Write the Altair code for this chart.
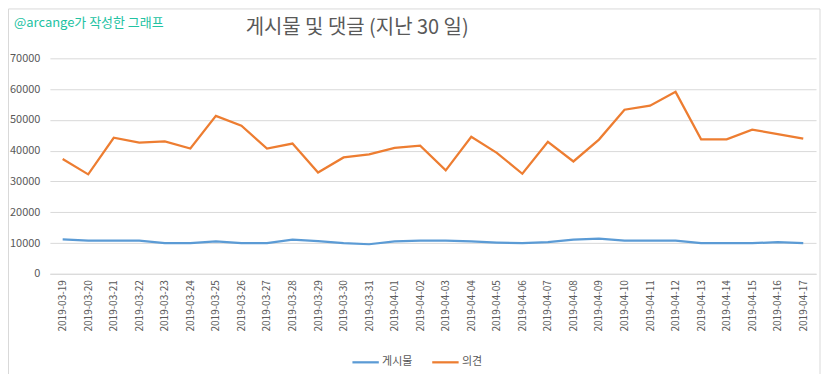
import altair as alt
import pandas as pd

dates = ["2019-03-19", "2019-03-20", "2019-03-21", "2019-03-22", "2019-03-23", "2019-03-24",
         "2019-03-25", "2019-03-26", "2019-03-27", "2019-03-28", "2019-03-29", "2019-03-30",
         "2019-03-31", "2019-04-01", "2019-04-02", "2019-04-03", "2019-04-04", "2019-04-05",
         "2019-04-06", "2019-04-07", "2019-04-08", "2019-04-09", "2019-04-10", "2019-04-11",
         "2019-04-12", "2019-04-13", "2019-04-14", "2019-04-15", "2019-04-16", "2019-04-17"]
posts = [11200, 10800, 10800, 10800, 9950, 9950, 10500, 9950, 9950, 11100, 10600, 9950,
         9600, 10500, 10800, 10800, 10500, 10150, 9950, 10300, 11100, 11450, 10800, 10800,
         10800, 9950, 9950, 9950, 10300, 9950]
comments = [37300, 32300, 44200, 42600, 43000, 40700, 51300, 48100, 40700, 42300, 32900, 37800,
            38800, 40900, 41600, 33600, 44500, 39300, 32500, 42900, 36500, 43600, 53300, 54600,
            59100, 43700, 43700, 46800, 45400, 43900]
series_names = ["게시물", "의견"]
series_colors = ["#5b9bd5", "#ed7d31"]
y_ticks = [0, 10000, 20000, 30000, 40000, 50000, 60000, 70000]
title_text = "게시물 및 댓글 (지난 30 일)"
credit_text = "@arcange가 작성한 그래프"

rows = []
for d, p, c in zip(dates, posts, comments):
    rows.append({"date": d, "series": series_names[0], "value": p})
    rows.append({"date": d, "series": series_names[1], "value": c})
df = pd.DataFrame(rows)

FONT = "Noto Sans CJK KR"
W, H = 768, 216

lines = alt.Chart(df).mark_line(strokeWidth=2.25).encode(
    x=alt.X("date:N", sort=dates, title=None,
            scale=alt.Scale(type="point", padding=0.5),
            axis=alt.Axis(labelAngle=-90, ticks=False, grid=False, domainColor="#d9d9d9",
                          labelColor="#595959", labelFontSize=10, labelFont=FONT, labelPadding=6)),
    y=alt.Y("value:Q", title=None,
            scale=alt.Scale(domain=[0, 70000], nice=False),
            axis=alt.Axis(values=y_ticks, domain=False, ticks=False, gridColor="#d9d9d9",
                          labelColor="#595959", labelFontSize=11, labelFont=FONT, labelPadding=10,
                          format="d")),
    color=alt.Color("series:N", scale=alt.Scale(domain=series_names, range=series_colors),
                    legend=alt.Legend(orient="none", legendX=302, legendY=290, direction="horizontal",
                                      title=None, symbolType="stroke", symbolSize=700,
                                      symbolStrokeWidth=2.25, labelFontSize=11, labelFont=FONT,
                                      labelColor="#595959", columnPadding=14, labelOffset=2)),
    order=alt.Order("date:N"),
)

one = pd.DataFrame({"a": [0]})
border = alt.Chart(one).mark_rect(fill="transparent", stroke="#d9d9d9", strokeWidth=1).encode(
    x=alt.value(-41.5), x2=alt.value(772), y=alt.value(-49.5), y2=alt.value(318)
)
title = alt.Chart(one).mark_text(text=title_text, fontSize=20, font=FONT, color="#595959",
                                 align="center", baseline="middle").encode(
    x=alt.value(308), y=alt.value(-30)
)
credit = alt.Chart(one).mark_text(text=credit_text, fontSize=13, font=FONT, color="#22c2a2",
                                  align="left", baseline="middle").encode(
    x=alt.value(-36), y=alt.value(-35)
)

chart = alt.layer(border, lines, title, credit).properties(
    width=W, height=H,
    autosize=alt.AutoSizeParams(type="none"),
    padding={"left": 42, "top": 50, "right": 8, "bottom": 100},
).configure_view(stroke=None)

chart.save("out.html", embed_options={"renderer": "svg", "actions": False})
